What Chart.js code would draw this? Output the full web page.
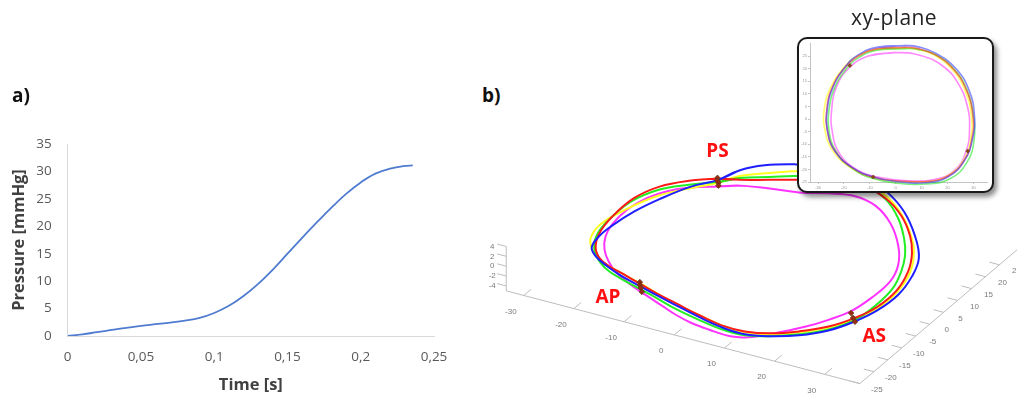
<!DOCTYPE html>
<html><head><meta charset="utf-8">
<script src="https://cdn.jsdelivr.net/npm/chart.js@4.4.1/dist/chart.umd.min.js"></script>
<style>
html,body{margin:0;padding:0;background:#fff;}
body{width:1017px;height:398px;position:relative;overflow:hidden;font-family:'Open Sans',sans-serif;}
.abs{position:absolute;}
.lbl{position:absolute;font-weight:700;font-size:19px;line-height:1;color:#111;white-space:nowrap;z-index:5;}
#title{position:absolute;left:794px;width:200px;text-align:center;top:7.4px;font-size:21px;line-height:1;letter-spacing:0.4px;color:#222;white-space:nowrap;z-index:5;}
#inset{position:absolute;left:797px;top:37px;width:197px;height:156px;box-sizing:border-box;border:2px solid #1a1a1a;border-radius:10px;background:#fff;box-shadow:3px 4px 5px rgba(0,0,0,.45);overflow:hidden;z-index:3;}
</style></head><body>
<div class="lbl" style="left:12px;top:85.5px">a)</div>
<div class="lbl" style="left:482px;top:85.5px">b)</div>
<div id="title">xy-plane</div>
<div class="abs" style="left:0;top:100px;width:470px;height:298px"><canvas id="cA"></canvas></div>
<div class="abs" style="left:470px;top:120px;width:547px;height:278px;z-index:1"><canvas id="cB"></canvas></div>
<div id="inset"><canvas id="cC"></canvas></div>
<script>
// ---------- a) pressure curve ----------
const timeS        = [0, 0.01, 0.02, 0.03, 0.04, 0.05, 0.06, 0.07, 0.08, 0.09, 0.10, 0.11, 0.12, 0.13, 0.14, 0.15, 0.16, 0.17, 0.18, 0.19, 0.20, 0.21, 0.22, 0.23, 0.2355];
const pressureMmHg = [0, 0.3, 0.7, 1.1, 1.5, 1.85, 2.15, 2.45, 2.8, 3.3, 4.2, 5.5, 7.3, 9.5, 12.1, 15.0, 17.9, 20.7, 23.4, 25.9, 28.0, 29.6, 30.5, 31.0, 31.1];
const timeTicks     = [0, 0.05, 0.1, 0.15, 0.2, 0.25];
const pressureTicks = [0, 5, 10, 15, 20, 25, 30, 35];

// ---------- b) 3D view: projected view coordinates of the five loops ----------
const loopBlue = [[718,177],[740,167],[765,162],[797,161],[835,163],[866,172],[890,190],[907,210],[918,235],[922,258],[915,277],[901,296],[880,312],[856,324],[830,333],[800,338],[770,339],[745,337],[722,330],[698,319],[675,307],[656,297],[638,287],[620,277],[604,266],[593,256],[589,247],[596,236],[609,225],[632,210],[658,197],[690,184]];
const loopRed = [[717,176],[740,177],[770,177],[797,177],[835,178],[866,184],[888,196],[904,214],[913,235],[915,253],[911,272],[899,292],[879,309],[857,320],[830,329],[800,334],[770,336],[745,334],[722,328],[698,317],[675,305],[656,295],[637,284],[620,274],[606,266],[597,258],[593,247],[597,232],[610,215],[632,196],[658,184],[688,178]];
const loopYellow = [[718,180],[740,173],[770,170],[797,168],[835,170],[866,179],[890,195],[905,214],[914,235],[917,252],[913,273],[900,293],[880,310],[857,321],[830,330],[800,335],[770,337],[745,335],[722,328],[698,317],[675,306],[656,295],[638,284],[620,274],[604,265],[595,258],[589,248],[588,237],[598,223],[625,207],[658,193],[688,186]];
const loopGreen = [[718,179],[740,175],[770,174],[797,173],[835,175],[866,182],[888,197],[901,217],[907,238],[908,255],[904,272],[895,290],[877,308],[857,322],[830,332],[800,337],[770,339],[745,338],[722,332],[698,322],[675,311],[656,300],[638,290],[620,280],[607,272],[598,263],[592,251],[593,237],[604,221],[628,200],[658,187],[688,182]];
const loopMagenta = [[718,184],[740,183],[770,186],[800,190],[830,191],[857,194],[878,204],[893,222],[901,245],[901,265],[893,282],[874,299],[853,313],[830,322],[807,329],[775,336],[748,340],[730,339],[708,332],[690,325],[675,317],[660,307],[645,297],[628,285],[614,273],[606,261],[602,249],[603,236],[610,223],[625,208],[645,196],[665,189],[690,185]];
const markersPS = [[717,175],[717,178],[718,180],[718,183]];
const markersAP = [[638,283],[638,286],[639,289],[640,293]];
const markersAS = [[853,315],[855,320],[857,324]];
const regionLabels = ['PS', 'AP', 'AS'];
const regionLabelAt = [[717,153],[605.5,305],[876.5,345]];
const xTicks3D = [-30, -20, -10, 0, 10, 20, 30];
const yTicks3D = [-25, -20, -15, -10, -5, 0, 5, 10, 15, 20, 25];
const zTicks3D = [-4, -2, 0, 2, 4];
const xLim3D = [-33.5, 37], yLim3D = [-25, 32], zLim3D = [-5, 4];

// ---------- inset: xy-plane ----------
const insetBlue = [[4.1,29.2],[-6.8,28.6],[-14.5,25.5],[-19.6,20.6],[-24.1,13],[-26.4,4],[-26.3,-5],[-23.5,-12.7],[-17,-19.1],[-8.7,-23],[0.9,-24.9],[11.2,-25.3],[20.1,-23],[26.5,-16.5],[29.7,-7.6],[30.4,1.4],[28.3,11.5],[23.3,20],[15.8,26],[8.4,28.8]];
const insetRed = [[4,28.5],[-6.8,28],[-14.5,25],[-19.8,20.2],[-24.4,12.8],[-26.6,4],[-26.3,-5],[-23.3,-12.9],[-16.8,-19.3],[-8.7,-23.1],[0.9,-24.6],[11.2,-24.9],[20.3,-22.6],[26.6,-16.2],[29.5,-7.4],[29.8,1.4],[27.4,11.3],[22.4,19.7],[15.2,25.6],[8.2,28.1]];
const insetYellow = [[4,28.2],[-6.8,27.8],[-14.8,25],[-20.5,20],[-25,12.8],[-27.6,4],[-27.2,-5],[-24,-13],[-17.2,-19.5],[-8.7,-23.3],[0.9,-24.9],[11.2,-25],[20.2,-22.5],[26.4,-16],[29,-7.5],[29.2,1.4],[26.8,11.3],[22,19.5],[14.9,25.4],[8,27.8]];
const insetGreen = [[4,28],[-6.8,27.5],[-14.2,24.5],[-19.2,19.8],[-23.5,12.6],[-25.7,4],[-25.7,-5],[-23,-12.9],[-16.8,-19.6],[-8.7,-23.6],[0.9,-25.5],[11.2,-25.8],[20.8,-23.8],[27.5,-17.2],[30.3,-8],[30,1.4],[27.6,11.4],[22.6,19.8],[15.4,25.6],[8.2,27.8]];
const insetMagenta = [[-0.4,26.4],[-10.6,25.1],[-18.3,20],[-22.8,13],[-24.7,4],[-24.5,-5],[-21.5,-14],[-14.5,-20.4],[-5.5,-23.3],[4.7,-24.5],[15,-24],[22.7,-20.4],[27.2,-12.7],[28.5,-3.7],[27.6,5.3],[24.2,14],[18.3,21],[9.6,25.3]];
const insetMarkers = [[-17.7,21.3],[-8.7,-23],[27.8,-12.7]];
const insetXTicks = [-30, -20, -10, 0, 10, 20, 30];
const insetYTicks = [-25, -20, -15, -10, -5, 0, 5, 10, 15, 20, 25];

// ---------- helpers ----------
const toXY = a => a.map(p => ({x: p[0], y: p[1]}));
const closed = a => toXY(a.concat([a[0], a[1]]));
const fixTicks = vals => s => { s.ticks = vals.map(v => ({value: v})); };

// ===== Chart a =====
new Chart(document.getElementById('cA'), {
  type: 'scatter',
  data: { datasets: [{
    data: timeS.map((t, i) => ({x: t, y: pressureMmHg[i]})),
    showLine: true, borderColor: '#4f7bd0', borderWidth: 1.8, pointRadius: 0,
    tension: 0.4, fill: false
  }]},
  options: {
    animation: false, responsive: true, maintainAspectRatio: false,
    layout: { padding: { top: 44, right: 36, left: 0, bottom: 0 } },
    plugins: { legend: { display: false }, tooltip: { enabled: false } },
    scales: {
      x: {
        type: 'linear', min: 0, max: 0.25,
        afterBuildTicks: fixTicks(timeTicks),
        afterFit: s => { s.height = 62; },
        grid: { display: false, drawTicks: false },
        border: { display: true, color: '#d9d9d9', width: 1 },
        ticks: { padding: 13, color: '#595959', font: { family: 'Open Sans', size: 13.5 }, maxRotation: 0, autoSkip: false,
          callback: v => String(+Number(v).toFixed(2)).replace('.', ',') },
        title: { display: true, text: 'Time [s]', color: '#404040', font: { family: 'Open Sans', size: 16.5, weight: 'bold' }, padding: { top: 0, bottom: 3 } }
      },
      y: {
        type: 'linear', min: 0, max: 35,
        afterBuildTicks: fixTicks(pressureTicks),
        afterFit: s => { s.width = 67.7; },
        grid: { display: false, drawTicks: false },
        border: { display: true, color: '#d9d9d9', width: 1 },
        ticks: { padding: 16, color: '#595959', font: { family: 'Open Sans', size: 13.5 }, autoSkip: false },
        title: { display: true, text: 'Pressure [mmHg]', color: '#404040', font: { family: 'Open Sans', size: 16.5, weight: 'bold' }, padding: { top: 9, bottom: 0 } }
      }
    }
  }
});

// ===== Chart b (3D view) =====
const AX0 = [502, 292];          // view position of the axis corner
const EX = [5.106, 1.362], EY = [2.84, -2.46], EZ = [0, -5.11];
function proj(x, y, z) {
  const dx = x - xLim3D[0], dy = y - yLim3D[0], dz = z - zLim3D[0];
  return { x: AX0[0] + dx*EX[0] + dy*EY[0] + dz*EZ[0], y: AX0[1] + dx*EX[1] + dy*EY[1] + dz*EZ[1] };
}
const axes3D = {
  id: 'axes3D',
  beforeDatasetsDraw(chart) {
    const { ctx, scales: { x: sx, y: sy } } = chart;
    const P = (x, y, z) => { const p = proj(x, y, z); return [sx.getPixelForValue(p.x), sy.getPixelForValue(p.y)]; };
    const seg = (a, b) => { ctx.beginPath(); ctx.moveTo(a[0], a[1]); ctx.lineTo(b[0], b[1]); ctx.stroke(); };
    ctx.save();
    ctx.strokeStyle = '#bdbdbd'; ctx.lineWidth = 1;
    seg(P(xLim3D[0], yLim3D[0], zLim3D[0]), P(xLim3D[1], yLim3D[0], zLim3D[0]));
    seg(P(xLim3D[1], yLim3D[0], zLim3D[0]), P(xLim3D[1], yLim3D[1], zLim3D[0]));
    seg(P(xLim3D[0], yLim3D[0], zLim3D[0]), P(xLim3D[0], yLim3D[0], zLim3D[1]));
    xTicks3D.forEach(v => seg(P(v, yLim3D[0], zLim3D[0]), P(v, yLim3D[0] + 2.6, zLim3D[0])));
    yTicks3D.forEach(v => seg(P(xLim3D[1], v, zLim3D[0]), P(xLim3D[1] - 2, v, zLim3D[0])));
    zTicks3D.forEach(v => seg(P(xLim3D[0], yLim3D[0], v), P(xLim3D[0] - 1.8, yLim3D[0], v)));
    ctx.fillStyle = '#7a7a7a'; ctx.font = '8px "Liberation Sans", Arial, sans-serif';
    ctx.textAlign = 'center'; ctx.textBaseline = 'middle';
    xTicks3D.forEach(v => { const p = P(v, yLim3D[0], zLim3D[0]); ctx.fillText(String(v), p[0] - 13, p[1] + 16); });
    yTicks3D.forEach(v => { const p = P(xLim3D[1], v, zLim3D[0]); ctx.fillText(String(v), p[0] + 17, p[1] + 6); });
    zTicks3D.forEach(v => { const p = P(xLim3D[0], yLim3D[0], v); ctx.fillText(String(v), p[0] - 14, p[1]); });
    ctx.restore();
  },
  afterDatasetsDraw(chart) {
    const { ctx, scales: { x: sx, y: sy } } = chart;
    ctx.save();
    ctx.fillStyle = '#ff1010'; ctx.font = 'bold 19px "Open Sans", sans-serif';
    ctx.textAlign = 'center'; ctx.textBaseline = 'alphabetic';
    regionLabels.forEach((t, i) => ctx.fillText(t, sx.getPixelForValue(regionLabelAt[i][0]), sy.getPixelForValue(regionLabelAt[i][1])));
    ctx.restore();
  }
};
const loopDs = (d, c) => ({ data: closed(d), showLine: true, borderColor: c, borderWidth: 2, pointRadius: 0, tension: 0.4, fill: false });
const markDs = d => ({ data: toXY(d), showLine: false, pointStyle: 'rectRot', pointRadius: 2.8, backgroundColor: '#9a2a14', borderColor: '#5e3a10', borderWidth: 0.8 });
new Chart(document.getElementById('cB'), {
  type: 'scatter',
  data: { datasets: [
    markDs(markersPS), markDs(markersAP), markDs(markersAS),
    loopDs(loopBlue, '#1f1fff'), loopDs(loopRed, '#ff1a1a'), loopDs(loopGreen, '#22ee22'),
    loopDs(loopYellow, '#ffff22'), loopDs(loopMagenta, '#ff33ff')
  ]},
  options: {
    animation: false, responsive: true, maintainAspectRatio: false,
    layout: { padding: 0 },
    plugins: { legend: { display: false }, tooltip: { enabled: false } },
    scales: {
      x: { type: 'linear', display: false, min: 470, max: 1017 },
      y: { type: 'linear', display: false, min: 120, max: 398, reverse: true }
    }
  },
  plugins: [axes3D]
});

// ===== Chart c (inset xy-plane) =====
const insetDs = (d, c) => ({ data: closed(d), showLine: true, borderColor: c, borderWidth: 1.6, pointRadius: 0, tension: 0.45, fill: false, clip: false });
const tinyAxis = {
  grid: { display: true, drawOnChartArea: false, drawTicks: true, tickLength: 2, color: '#c4c4c4' },
  border: { display: true, color: '#c4c4c4', width: 1 },
  ticks: { padding: 1, color: '#999', font: { family: 'Liberation Sans', size: 4 }, autoSkip: false, maxRotation: 0 }
};
new Chart(document.getElementById('cC'), {
  type: 'scatter',
  data: { datasets: [
    { data: toXY(insetMarkers), showLine: false, pointStyle: 'rectRot', pointRadius: 2, backgroundColor: '#8a4a14', borderColor: '#6a3a10', borderWidth: 0.6, clip: false },
    insetDs(insetBlue, 'rgba(60,60,255,0.6)'), insetDs(insetRed, 'rgba(255,40,40,0.6)'),
    insetDs(insetGreen, 'rgba(40,230,40,0.6)'), insetDs(insetYellow, 'rgba(255,255,40,0.7)'),
    insetDs(insetMagenta, 'rgba(255,60,255,0.6)')
  ]},
  options: {
    animation: false, responsive: true, maintainAspectRatio: false,
    layout: { padding: { top: 0, right: 4, left: 0, bottom: 0 } },
    plugins: { legend: { display: false }, tooltip: { enabled: false } },
    scales: {
      x: Object.assign({ type: 'linear', min: -33.1, max: 35.4, afterBuildTicks: fixTicks(insetXTicks), afterFit: s => { s.height = 9; } }, tinyAxis),
      y: Object.assign({ type: 'linear', min: -25, max: 30, afterBuildTicks: fixTicks(insetYTicks), afterFit: s => { s.width = 11; } }, tinyAxis)
    }
  }
});
</script>
</body></html>
